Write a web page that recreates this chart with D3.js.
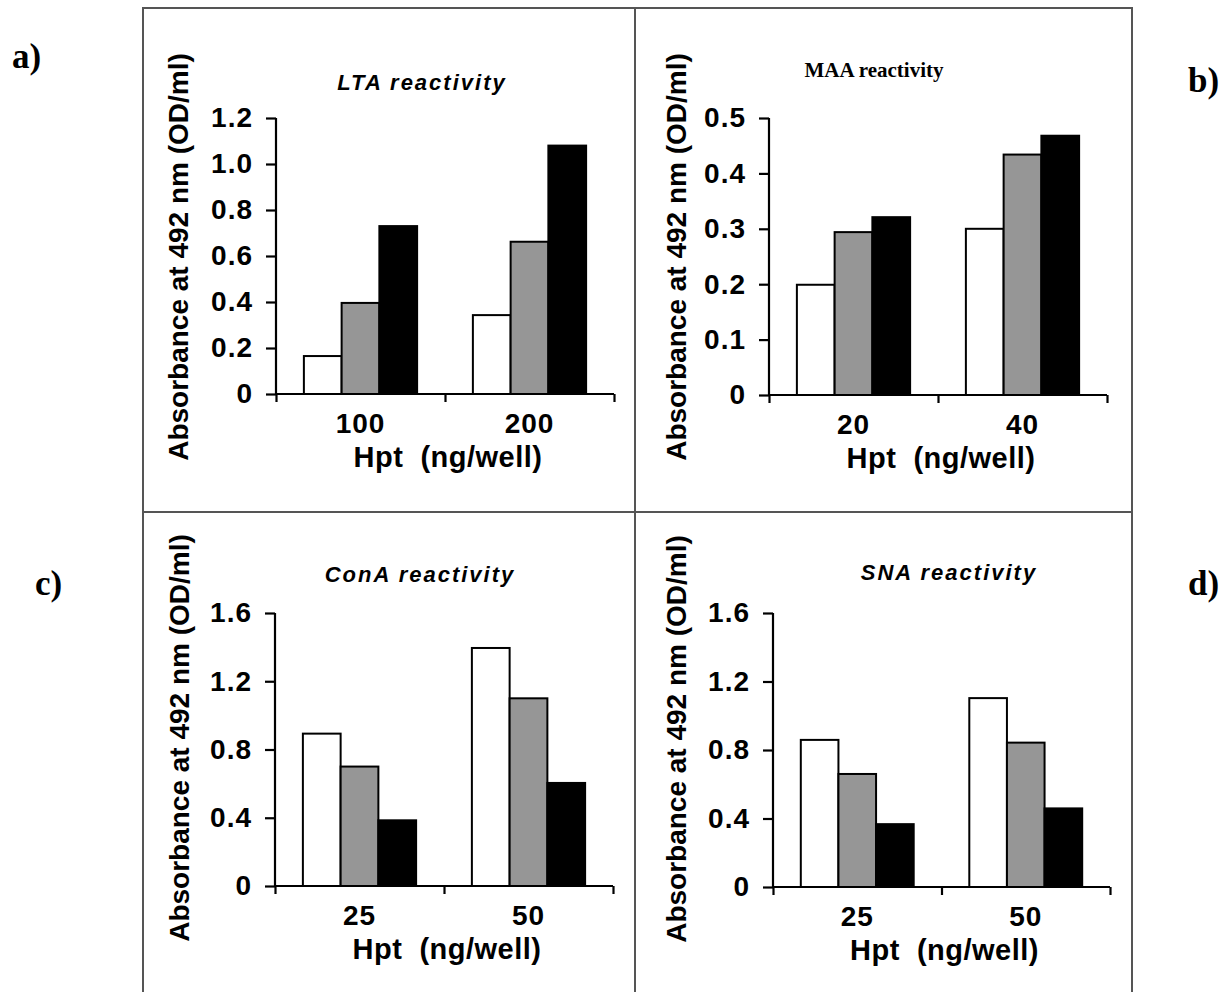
<!DOCTYPE html>
<html>
<head>
<meta charset="utf-8">
<script src="https://cdn.jsdelivr.net/npm/d3@7"></script>
<style>
  body { margin: 0; background: #fff; }
  svg text { fill: #000; }
  .sans { font-family: "Liberation Sans", Arial, sans-serif; font-weight: bold; }
  .serif { font-family: "Liberation Serif", "Times New Roman", serif; font-weight: bold; }
</style>
</head>
<body>
<div id="chart-container"></div>
<script>
"use strict"

// panel data
const panelLetters = ["a)", "b)", "c)", "d)"];
const panelTitles = ["LTA reactivity", "MAA reactivity", "ConA reactivity", "SNA reactivity"];

const ltaDoses = ["100", "200"];
const ltaValues = [[0.165, 0.396, 0.73], [0.343, 0.662, 1.08]];
const ltaTicks = [0, 0.2, 0.4, 0.6, 0.8, 1.0, 1.2];

const maaDoses = ["20", "40"];
const maaValues = [[0.199, 0.294, 0.321], [0.30, 0.434, 0.468]];
const maaTicks = [0, 0.1, 0.2, 0.3, 0.4, 0.5];

const conaDoses = ["25", "50"];
const conaValues = [[0.893, 0.70, 0.385], [1.395, 1.10, 0.604]];
const conaTicks = [0, 0.4, 0.8, 1.2, 1.6];

const snaDoses = ["25", "50"];
const snaValues = [[0.859, 0.66, 0.367], [1.103, 0.843, 0.459]];
const snaTicks = [0, 0.4, 0.8, 1.2, 1.6];

const seriesKeys = ["white", "grey", "black"];
const seriesFill = ["#ffffff", "#969696", "#000000"];

const yLabel = "Absorbance at 492 nm (OD/ml)";
const xLabel = "Hpt  (ng/well)";

document.addEventListener('DOMContentLoaded', function(){
  drawFigure();
});

function drawFigure(){
  let svgWidth = 1232;
  let svgHeight = 992;

  const svg = d3.select('#chart-container')
    .append('svg')
    .attr('width', svgWidth)
    .attr('height', svgHeight);

  // outer frame and the dividers between panels
  const frame = svg.append('g')
    .attr('stroke', '#555')
    .attr('stroke-width', 2)
    .attr('fill', 'none');
  frame.append('rect').attr('x', 143).attr('y', 8).attr('width', 989).attr('height', 1000);
  frame.append('line').attr('x1', 635).attr('x2', 635).attr('y1', 8).attr('y2', 1000);
  frame.append('line').attr('x1', 143).attr('x2', 1132).attr('y1', 512).attr('y2', 512);

  // panel letters
  const letterPos = [[12, 68], [1188, 92], [35, 595], [1188, 595]];
  svg.selectAll('text.letter')
    .data(panelLetters)
    .enter()
    .append('text')
    .attr('class', 'letter serif')
    .attr('x', (d, i) => letterPos[i][0])
    .attr('y', (d, i) => letterPos[i][1])
    .style('font-size', '35px')
    .text(d => d);

  const panels = [
    { doses: ltaDoses, values: ltaValues, ticks: ltaTicks, left: 276, right: 614, top: 118, bottom: 394,
      titleX: 422, titleY: 90, serifTitle: false, labelX: 188, labelY: 257 },
    { doses: maaDoses, values: maaValues, ticks: maaTicks, left: 769, right: 1107, top: 118, bottom: 395,
      titleX: 874, titleY: 77, serifTitle: true, labelX: 686, labelY: 257 },
    { doses: conaDoses, values: conaValues, ticks: conaTicks, left: 275, right: 613, top: 613, bottom: 886,
      titleX: 420, titleY: 582, serifTitle: false, labelX: 189, labelY: 738 },
    { doses: snaDoses, values: snaValues, ticks: snaTicks, left: 773, right: 1110, top: 613, bottom: 887,
      titleX: 949, titleY: 580, serifTitle: false, labelX: 686, labelY: 739 }
  ];

  panels.forEach((p, i) => drawPanel(svg, p, panelTitles[i]));
}

function drawPanel(svg, p, title){
  const g = svg.append('g');

  /***************************************
   SCALES
  ***************************************/
  let xScale = d3.scaleBand()
    .domain(p.doses)
    .range([p.left, p.right])
    .paddingInner(0.33)
    .paddingOuter(0.165);

  let xSeries = d3.scaleBand()
    .domain(seriesKeys)
    .range([0, xScale.bandwidth()])
    .padding(0);

  let yScale = d3.scaleLinear()
    .domain([0, p.ticks[p.ticks.length - 1]])
    .range([p.bottom, p.top]);

  /***************************************
   BARS
  ***************************************/
  const groups = g.selectAll('g.group')
    .data(p.doses)
    .enter()
    .append('g')
    .attr('transform', d => 'translate(' + xScale(d) + ',0)');

  groups.selectAll('rect')
    .data((d, i) => p.values[i].map((v, j) => ({ key: seriesKeys[j], value: v, fill: seriesFill[j] })))
    .enter()
    .append('rect')
    .attr('x', d => xSeries(d.key))
    .attr('y', d => yScale(d.value))
    .attr('width', xSeries.bandwidth())
    .attr('height', d => yScale(0) - yScale(d.value))
    .attr('fill', d => d.fill)
    .attr('stroke', '#000')
    .attr('stroke-width', 2);

  /***************************************
   AXES
  ***************************************/
  const yAxis = d3.axisLeft(yScale)
    .tickValues(p.ticks)
    .tickSize(10)
    .tickPadding(13)
    .tickFormat(d => d === 0 ? '0' : d3.format('.1f')(d));

  const yG = g.append('g')
    .attr('transform', 'translate(' + p.left + ',0)')
    .call(yAxis);

  // the x axis has ticks at the band edges only
  const edgeScale = d3.scaleLinear().domain([0, p.doses.length]).range([p.left, p.right]);
  const xAxis = d3.axisBottom(edgeScale)
    .tickValues(d3.range(p.doses.length + 1))
    .tickSize(8)
    .tickFormat('');

  const xG = g.append('g')
    .attr('transform', 'translate(0,' + p.bottom + ')')
    .call(xAxis);

  [yG, xG].forEach(a => {
    a.select('.domain').attr('stroke', '#000').attr('stroke-width', 2.2);
    a.selectAll('.tick line').attr('stroke', '#000').attr('stroke-width', 2.2);
    a.selectAll('.tick text')
      .attr('class', 'sans')
      .style('font-size', '28px')
      .style('letter-spacing', '1px')
      .attr('fill', '#000');
  });
  yG.select('.domain').attr('d', 'M0,' + p.top + 'V' + p.bottom);
  xG.select('.domain').attr('d', 'M' + p.left + ',0H' + p.right);

  // dose labels under the bands
  g.selectAll('text.dose')
    .data(p.doses)
    .enter()
    .append('text')
    .attr('class', 'dose sans')
    .attr('x', d => xScale(d) + xScale.bandwidth() / 2)
    .attr('y', p.bottom + 39)
    .attr('text-anchor', 'middle')
    .style('font-size', '28px')
    .style('letter-spacing', '1px')
    .text(d => d);

  g.append('text')
    .attr('class', 'sans')
    .attr('x', (p.left + p.right) / 2 + 3)
    .attr('y', p.bottom + 73)
    .attr('text-anchor', 'middle')
    .style('font-size', '29px')
    .style('letter-spacing', '0.5px')
    .style('white-space', 'pre')
    .text(xLabel);

  g.append('text')
    .attr('class', 'sans')
    .attr('transform', 'translate(' + p.labelX + ',' + p.labelY + ') rotate(-90)')
    .attr('text-anchor', 'middle')
    .style('font-size', '28px')
    .text(yLabel);

  // panel title
  const t = g.append('text')
    .attr('x', p.titleX)
    .attr('y', p.titleY)
    .attr('text-anchor', 'middle')
    .text(title);
  if (p.serifTitle) {
    t.attr('class', 'serif').style('font-size', '21px');
  } else {
    t.attr('class', 'sans')
      .style('font-size', '22px')
      .style('font-style', 'italic')
      .style('letter-spacing', '2px');
  }
}
</script>
</body>
</html>
